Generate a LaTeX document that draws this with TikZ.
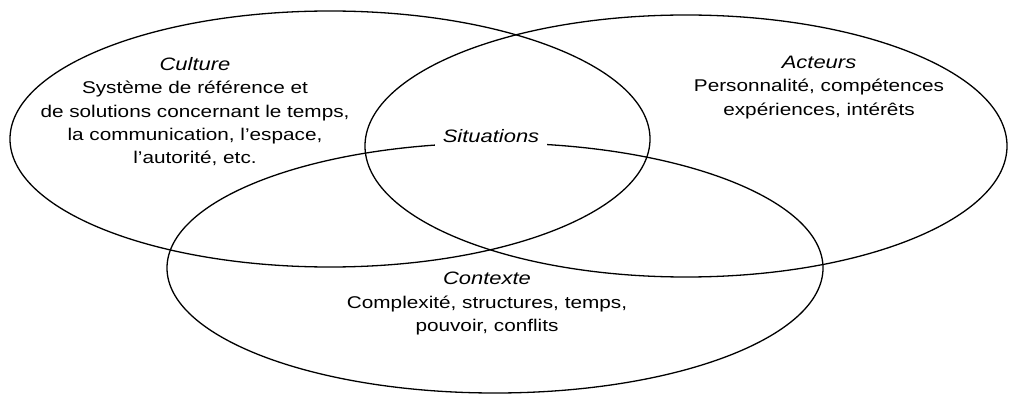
\documentclass[tikz,border=0pt]{standalone}
\usepackage{fontspec}
\setmainfont{Liberation Sans}[FakeStretch=1.22]
\usepackage{tikz}
\usetikzlibrary{shapes.geometric, positioning}
\tikzset{
	zone/.style={
		draw,
		ellipse,
		line width=1.3pt,
		inner sep=0pt
	},
	zonetext/.style={
		align=center,
		inner sep=0pt,
		anchor=north,
		font=\fontsize{17}{23.4}\selectfont
	}
}
\newcommand{\zonetitle}[1]{{\fontsize{18}{23.4}\selectfont\itshape #1}}

\begin{document}
\begin{tikzpicture}[x=1pt, y=-1pt]
	\useasboundingbox (0,0) rectangle (1011,398);
	
	% Ellipses
	\node[zone, minimum width=640pt, minimum height=256pt] (Cult) at (330,139) {};
	\node[zone, minimum width=642pt, minimum height=262pt] (Act) at (686,146) {};
	\node[zone, minimum width=656pt, minimum height=250pt] (Ctx) at (495,268) {};
	
	% Situations (sur le bord du contexte)
	\node[anchor=base, fill=white, inner xsep=8pt, inner ysep=4pt, font=\fontsize{18}{22}\selectfont\itshape] (Sit) at ([xshift=-4pt]Ctx.north) {Situations};
	
	% Textes
	\node[zonetext] (TCult) at (195,57) {\zonetitle{Culture}\\ Système de référence et\\ de solutions concernant le temps,\\ la communication, l'espace,\\ l'autorité, etc.};
	\node[zonetext] (TAct) at (819,56) {\zonetitle{Acteurs}\\ Personnalité, compétences\\ expériences, intérêts};
	\node[zonetext] (TCtx) at (487,272) {\zonetitle{Contexte}\\ Complexité, structures, temps,\\ pouvoir, conflits};
	
\end{tikzpicture}
\end{document}
